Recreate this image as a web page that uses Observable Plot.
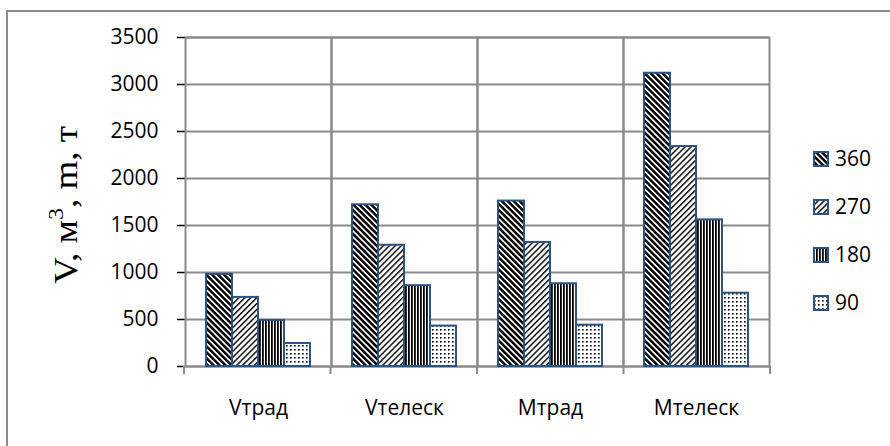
<!DOCTYPE html>
<html>
<head>
<meta charset="utf-8">
<script src="https://cdn.jsdelivr.net/npm/d3@7"></script>
<script src="https://cdn.jsdelivr.net/npm/@observablehq/plot@0.6"></script>
<style>
  html, body { margin: 0; padding: 0; background: #fff; width: 890px; height: 446px; overflow: hidden; }
  #box { position: absolute; left: 6px; top: 10px; width: 1000px; height: 1000px; border: 2px solid #8c8c8c; box-sizing: border-box; }
  #chart { position: absolute; left: 0; top: 0; }
  #chart svg [aria-label="y-axis tick"] { stroke: #8c8c8c; stroke-width: 1.5; }
  #chart svg [aria-label="y-axis"] .tick line { stroke: #8c8c8c; stroke-width: 1.5; }
  #legend { position: absolute; left: 813px; top: 144px; font-family: "Open Sans", sans-serif; font-size: 21px; color: #000; }
  #legend .row { height: 48px; display: flex; align-items: flex-start; }
  #legend .row span { line-height: 28px; margin-left: 6px; }
  #legend svg { margin-top: 7px; }
</style>
</head>
<body>
<svg width="0" height="0" style="position:absolute"><defs id="defs"></defs></svg>
<div id="box"></div>
<div id="chart"></div>
<div id="legend"></div>
<script>
const categories = ["Vтрад", "Vтелеск", "Mтрад", "Mтелеск"];
const series = ["360", "270", "180", "90"];
const v360 = [980, 1720, 1760, 3120];
const v270 = [735, 1290, 1320, 2340];
const v180 = [490, 860, 880, 1560];
const v90 = [245, 430, 440, 780];
const yTicks = [0, 500, 1000, 1500, 2000, 2500, 3000, 3500];
const yLabel = "V, м";

const seriesValues = {"360": v360, "270": v270, "180": v180, "90": v90};
const data = [];
categories.forEach((c, i) => series.forEach(s => data.push({cat: c, series: s, value: seriesValues[s][i], pat: `url(#p${s})`})));

// hatch patterns
const defs = d3.select("#defs");
function stripes(id, period, black, angle) {
  const p = defs.append("pattern").attr("id", id).attr("patternUnits", "userSpaceOnUse")
    .attr("width", period).attr("height", period).attr("patternTransform", `rotate(${angle})`);
  p.append("rect").attr("width", period).attr("height", period).attr("fill", "#fff");
  p.append("rect").attr("width", black).attr("height", period).attr("fill", "#000");
}
stripes("p360", 4.2, 2.5, -45);
stripes("p270", 4.2, 1.4, 45);
stripes("p180", 3, 1.8, 0);
{
  const p = defs.append("pattern").attr("id", "p90").attr("patternUnits", "userSpaceOnUse").attr("width", 4).attr("height", 4);
  p.append("rect").attr("width", 4).attr("height", 4).attr("fill", "#fff");
  p.append("rect").attr("x", 1).attr("y", 1).attr("width", 1.6).attr("height", 1.6).attr("fill", "#000");
}

const navy = "#2B5384";
const gray = "#8a8a8a";

const chart = Plot.plot({
  width: 890,
  height: 446,
  marginLeft: 184,
  marginRight: 120,
  marginTop: 37,
  marginBottom: 80,
  style: {fontFamily: "Open Sans, sans-serif", fontSize: "21px", color: "#000", background: "transparent", overflow: "visible"},
  fx: {domain: categories, paddingInner: 0, paddingOuter: 0, label: null, tickSize: 0, tickPadding: 34, axis: "bottom"},
  x: {domain: series, paddingInner: 0, paddingOuter: 0.71, axis: null},
  y: {domain: [0, 3500], ticks: yTicks, tickSize: 8, tickPadding: 19, tickFormat: d => String(d), label: null},
  color: {type: "identity"},
  marks: [
    Plot.ruleY(yTicks, {stroke: gray, strokeWidth: 2}),
    Plot.frame({stroke: gray, strokeWidth: 2}),
    Plot.barY(data, {fx: "cat", x: "series", y: "value", fill: "pat", stroke: navy, strokeWidth: 2})
  ]
});
document.getElementById("chart").appendChild(chart);

// short tick extensions below the baseline at each group boundary
try {
  const fxs = chart.scale("fx");
  const band = d3.scaleBand(fxs.domain, fxs.range).paddingInner(0).paddingOuter(0);
  const ys = chart.scale("y");
  const y0 = d3.scaleLinear(ys.domain, ys.range)(0);
  const edges = categories.map(c => band(c)).concat([band(categories[categories.length - 1]) + band.bandwidth()]);
  d3.select(chart).append("g").selectAll("line").data(edges).join("line")
    .attr("x1", d => d).attr("x2", d => d).attr("y1", y0).attr("y2", y0 + 8)
    .attr("stroke", gray).attr("stroke-width", 2);
} catch (e) {}

// y-axis title
{
  const svg = d3.select(chart);
  const t = svg.append("text")
    .attr("transform", "translate(77,205) rotate(-90)")
    .attr("text-anchor", "middle")
    .attr("font-family", "Liberation Serif, Times New Roman, serif")
    .attr("font-size", 34)
    .attr("textLength", 158)
    .attr("lengthAdjust", "spacingAndGlyphs")
    .attr("fill", "#000");
  t.append("tspan").text(yLabel);
  t.append("tspan").attr("font-size", 22).attr("dy", -14).text("3");
  t.append("tspan").attr("dy", 14).text(", m, т");
}

// legend
const legend = d3.select("#legend");
series.forEach(s => {
  const row = legend.append("div").attr("class", "row");
  const sw = row.append("svg").attr("width", 16).attr("height", 16);
  sw.append("rect").attr("x", 1).attr("y", 1).attr("width", 14).attr("height", 14)
    .attr("fill", `url(#p${s})`).attr("stroke", navy).attr("stroke-width", 2);
  row.append("span").text(s);
});
</script>
</body>
</html>
